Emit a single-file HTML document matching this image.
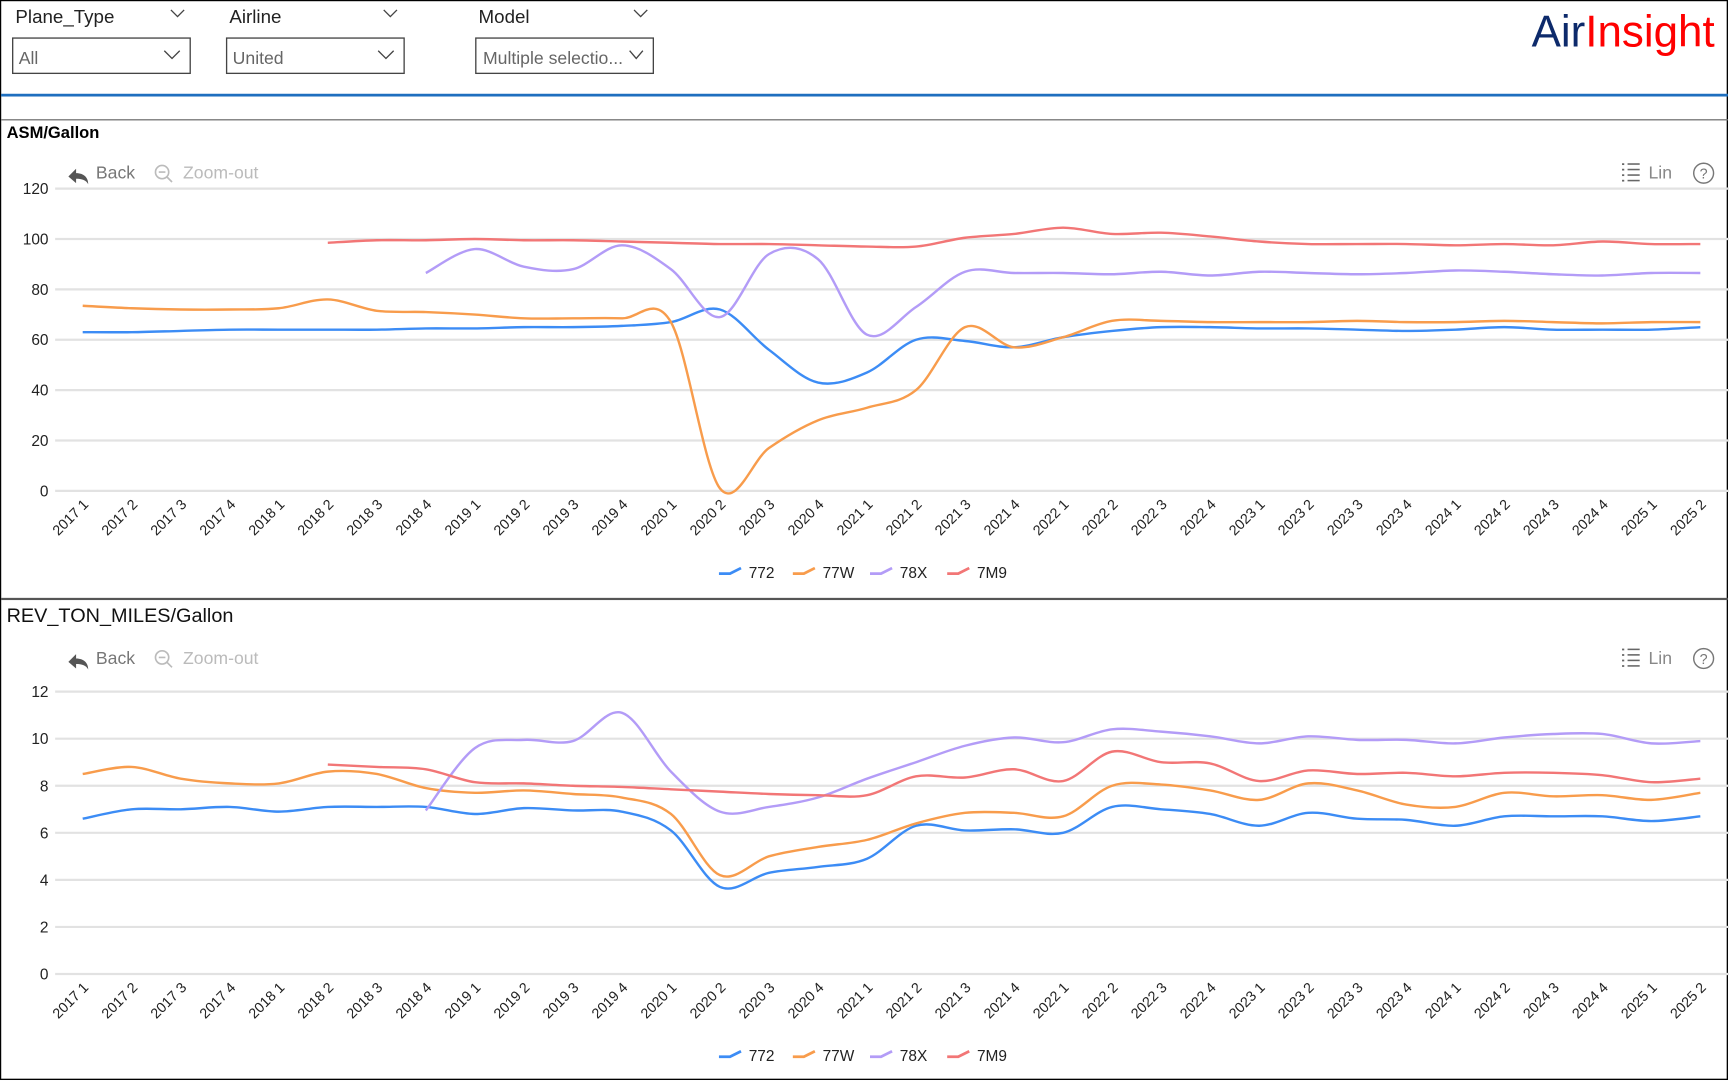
<!DOCTYPE html>
<html><head><meta charset="utf-8"><style>
html,body{margin:0;padding:0;background:#fff;width:1729px;height:1081px;overflow:hidden}
svg{display:block}
text{font-family:"Liberation Sans",sans-serif}
</style></head><body>
<svg id="s" width="1729" height="1081" viewBox="0 0 1568 980" preserveAspectRatio="none" xmlns="http://www.w3.org/2000/svg">
<rect x="0.5" y="0.5" width="1566" height="978" fill="#fff" stroke="#000" stroke-width="1.2"/>
<text x="14" y="21" font-size="17" fill="#222">Plane_Type</text>
<text x="208" y="21" font-size="17" fill="#222">Airline</text>
<text x="434" y="21" font-size="17" fill="#222">Model</text>
<g fill="none" stroke="#444" stroke-width="1.2">
<path d="M155 9 l6 6 l6 -6"/><path d="M348 9 l6 6 l6 -6"/><path d="M575 9 l6 6 l6 -6"/>
<rect x="11.5" y="34.5" width="161" height="32"/>
<rect x="205.5" y="34.5" width="161" height="32"/>
<rect x="431.5" y="34.5" width="161" height="32"/>
<path d="M149 46 l7 7 l7 -7"/><path d="M343 46 l7 7 l7 -7"/><path d="M571 46 l6 7 l6 -7"/>
</g>
<text x="17" y="58" font-size="16" fill="#666">All</text>
<text x="211" y="58" font-size="16" fill="#666">United</text>
<text x="438" y="58" font-size="16" fill="#666">Multiple selectio...</text>
<text x="1389" y="42" font-size="40" textLength="166" lengthAdjust="spacingAndGlyphs" fill="#0d2a6b">Air<tspan fill="#f00">Insight</tspan></text>
<rect x="1" y="85" width="1566" height="2.5" fill="#1f6fbf"/>
<rect x="1" y="108" width="1566" height="1.2" fill="#777"/>
<rect x="1" y="542" width="1566" height="2" fill="#555"/>
<text x="6" y="125" font-size="15" font-weight="bold" fill="#000">ASM/Gallon</text>
<text x="6" y="564" font-size="18" fill="#111">REV_TON_MILES/Gallon</text>
<g id="g"></g>
</svg>
<script>
const NS="http://www.w3.org/2000/svg",g=document.getElementById('g');
function el(t,a,txt){const e=document.createElementNS(NS,t);for(const k in a)e.setAttribute(k,a[k]);if(txt!==undefined)e.textContent=txt;g.appendChild(e);return e;}
const X0=75,DX=(1542-75)/33;
const cats=[];for(let y=2017;y<=2025;y++)for(let q=1;q<=4;q++){if(y==2025&&q>2)break;cats.push(y+" "+q);}
const C={"772":"#3c8cf5","77W":"#f89c4c","78X":"#b39cf7","7M9":"#f27676"};
function smooth(pts){let d="M"+pts[0][0]+" "+pts[0][1];for(let i=0;i<pts.length-1;i++){const p0=pts[i-1]||pts[i],p1=pts[i],p2=pts[i+1],p3=pts[i+2]||p2;const t=6;d+=` C${p1[0]+(p2[0]-p0[0])/t} ${p1[1]+(p2[1]-p0[1])/t} ${p2[0]-(p3[0]-p1[0])/t} ${p2[1]-(p3[1]-p1[1])/t} ${p2[0]} ${p2[1]}`;}return d;}
function chart(o){
 const {y0,ytop,max,ticks,data,legY,tb}=o;
 const yv=v=>y0-(v/max)*(y0-ytop);
 el('path',{d:`M62 ${tb+4} l7 -7 v4 c7 0 11 4 11 10 c-2 -4 -6 -5 -11 -5 v4 z`,fill:'#555'});
 el('text',{x:87,y:tb+6,'font-size':16,fill:'#777'},'Back');
 el('circle',{cx:147,cy:tb,r:6,fill:'none',stroke:'#bbb','stroke-width':1.5});
 el('path',{d:`M144 ${tb} h6 M151 ${tb+4} l5 5`,stroke:'#bbb','stroke-width':1.5});
 el('text',{x:166,y:tb+6,'font-size':16,fill:'#bbb'},'Zoom-out');
 for(let i=0;i<4;i++){el('rect',{x:1471,y:tb-8+i*5,width:2,height:1.6,fill:'#666'});el('rect',{x:1476,y:tb-8+i*5,width:11,height:1.4,fill:'#666'});}
 el('text',{x:1495,y:tb+6,'font-size':16,fill:'#888'},'Lin');
 el('circle',{cx:1545,cy:tb+1,r:9,fill:'none',stroke:'#777','stroke-width':1.3});
 el('text',{x:1545,y:tb+6,'font-size':13,fill:'#777','text-anchor':'middle'},'?');
 for(const t of ticks){const y=yv(t);el('line',{x1:50,x2:1568,y1:y,y2:y,stroke:'#e2e2e2','stroke-width':2});
  el('text',{x:44,y:y+5,'font-size':14,fill:'#222','text-anchor':'end'},String(t));}
 cats.forEach((c,i)=>{const x=X0+i*DX+6;el('text',{x:x,y:y0+13,'font-size':13,fill:'#222','text-anchor':'end',transform:`rotate(-45 ${x} ${y0+13})`},c);});
 for(const k in data){const [s,vals]=data[k];const pts=vals.map((v,i)=>[X0+(s+i)*DX,yv(v)]);
  el('path',{d:smooth(pts),fill:'none',stroke:C[k],'stroke-width':2.2});}
 let lx=652;for(const k in C){el('path',{d:`M${lx} ${legY+2} h10 l10 -5`,fill:'none',stroke:C[k],'stroke-width':2.5});
  el('text',{x:lx+27,y:legY+6,'font-size':14,fill:'#222'},k);lx+=k=="772"?67:70;}
}
chart({y0:445,ytop:171,max:120,ticks:[0,20,40,60,80,100,120],tb:156,legY:518,data:{
"772":[0,[63,63,63.5,64,64,64,64,64.5,64.5,65,65,65.5,67,72,56,43,47,60,59.5,57,61,63.5,65,65,64.5,64.5,64,63.5,64,65,64,64,64,65]],
"77W":[0,[73.5,72.5,72,72,72.5,76,71.5,71,70,68.5,68.5,68.5,67,1,17,28,33,40,65,57,61,67.5,67.5,67,67,67,67.5,67,67,67.5,67,66.5,67,67]],
"78X":[7,[86.5,96,89,88,97.5,88,69,94,92,62,73,87,86.5,86.5,86,87,85.5,87,86.5,86,86.5,87.5,87,86,85.5,86.5,86.5]],
"7M9":[5,[98.5,99.5,99.5,100,99.5,99.5,99,98.5,98,98,97.5,97,97,100.5,102,104.5,102,102.5,101,99,98,98,98,97.5,98,97.5,99,98,98]]}});
chart({y0:883,ytop:627,max:12,ticks:[0,2,4,6,8,10,12],tb:596,legY:956,data:{
"772":[0,[6.6,7,7,7.1,6.9,7.1,7.1,7.1,6.8,7.05,6.95,6.9,6.1,3.7,4.3,4.55,4.9,6.3,6.1,6.15,6.0,7.1,7.0,6.8,6.3,6.85,6.6,6.55,6.3,6.7,6.7,6.7,6.5,6.7]],
"77W":[0,[8.5,8.8,8.3,8.1,8.1,8.6,8.5,7.9,7.7,7.8,7.65,7.5,6.8,4.2,5.0,5.4,5.7,6.4,6.85,6.85,6.7,8.0,8.05,7.8,7.4,8.1,7.8,7.2,7.1,7.7,7.55,7.6,7.4,7.7]],
"78X":[7,[6.95,9.6,9.95,9.9,11.1,8.6,6.9,7.1,7.5,8.3,9.0,9.7,10.05,9.85,10.4,10.3,10.1,9.8,10.1,9.95,9.95,9.8,10.05,10.2,10.2,9.8,9.9]],
"7M9":[5,[8.9,8.8,8.7,8.15,8.1,8.0,7.95,7.85,7.75,7.65,7.6,7.6,8.4,8.35,8.7,8.2,9.45,9.0,8.95,8.2,8.65,8.5,8.55,8.4,8.55,8.55,8.45,8.15,8.3]]}});
</script>
</body></html>
